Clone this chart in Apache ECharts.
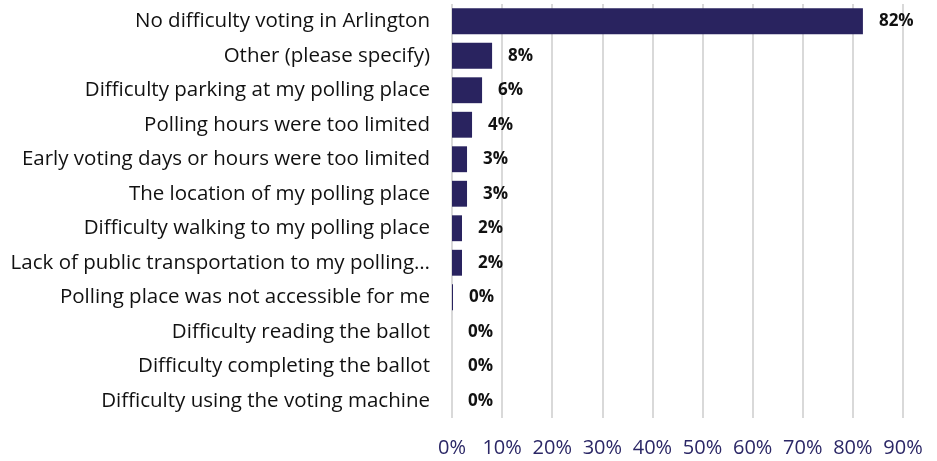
<!DOCTYPE html>
<html>
<head>
<meta charset="utf-8">
<script src="https://cdn.jsdelivr.net/npm/echarts@6/dist/echarts.min.js"></script>
<style>
  html, body { margin: 0; padding: 0; background: #ffffff; }
  #chart { width: 937px; height: 461px; }
</style>
</head>
<body>
<div id="chart"></div>
<script>
// Reported difficulties when voting, share of respondents (%)
const categories = [
  'No difficulty voting in Arlington',
  'Other (please specify)',
  'Difficulty parking at my polling place',
  'Polling hours were too limited',
  'Early voting days or hours were too limited',
  'The location of my polling place',
  'Difficulty walking to my polling place',
  'Lack of public transportation to my polling\u2026',
  'Polling place was not accessible for me',
  'Difficulty reading the ballot',
  'Difficulty completing the ballot',
  'Difficulty using the voting machine'
];
const shares = [82, 8, 6, 4, 3, 3, 2, 2, 0.2, 0, 0, 0];
const tickValues = [0, 10, 20, 30, 40, 50, 60, 70, 80, 90];

const FONT = '"Open Sans", sans-serif';
const chart = echarts.init(document.getElementById('chart'));

chart.setOption({
  animation: false,
  grid: { left: 452, right: 34, top: 4, bottom: 43, containLabel: false },
  xAxis: {
    type: 'value',
    min: tickValues[0],
    max: tickValues[tickValues.length - 1],
    interval: 10,
    axisLine: { show: false },
    axisTick: { show: false },
    splitLine: { show: true, lineStyle: { color: '#d9d9d9', width: 2 } },
    axisLabel: {
      formatter: v => v + '%',
      color: '#2b2766',
      fontFamily: FONT,
      fontSize: 20,
      margin: 20
    }
  },
  yAxis: {
    type: 'category',
    data: categories,
    inverse: true,
    axisLine: { show: false },
    axisTick: { show: false },
    splitLine: { show: false },
    axisLabel: {
      color: '#111111',
      fontFamily: FONT,
      fontSize: 20.5,
      margin: 22
    }
  },
  series: [{
    type: 'bar',
    data: shares,
    barCategoryGap: '25%',
    itemStyle: { color: '#29235f' },
    label: {
      show: true,
      position: 'right',
      distance: 16,
      formatter: p => Math.round(p.value) + '%',
      color: '#111111',
      fontFamily: FONT,
      fontSize: 17,
      fontWeight: 'bold'
    }
  }]
});
</script>
</body>
</html>
